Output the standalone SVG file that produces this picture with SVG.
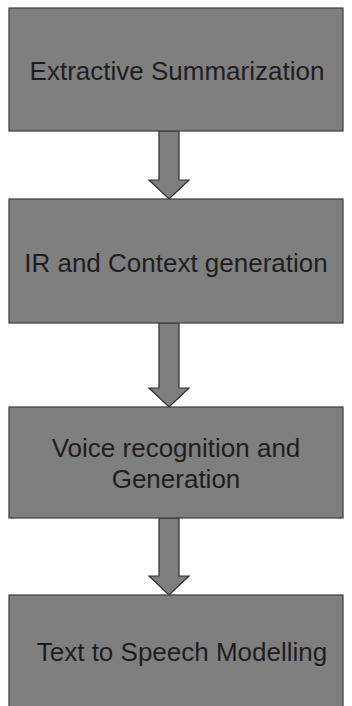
<svg xmlns="http://www.w3.org/2000/svg" width="352" height="706" viewBox="0 0 352 706">
<style>
.box{fill:#7f7f7f;stroke:#3c3c3c;stroke-width:1.2}
.lbl{font-family:"Liberation Sans",Arial,sans-serif;font-size:26px;fill:#1e1e1e;text-anchor:middle}
.arr{fill:#7f7f7f;stroke:#2e2e2e;stroke-width:1.2;stroke-linejoin:miter}
</style>
<rect width="352" height="706" fill="#ffffff"/>
<g id="connectors">
<path class="arr" d="M159,131 L179,131 L179,180 L189,180 L169,199 L149,180 L159,180 Z"/>
<path class="arr" d="M159,323 L179,323 L179,388 L189,388 L169,407 L149,388 L159,388 Z"/>
<path class="arr" d="M159,518 L179,518 L179,576 L189,576 L169,595 L149,576 L159,576 Z"/>
</g>
<g id="node1">
<rect class="box" x="9" y="8" width="334" height="123"/>
<text class="lbl" x="177" y="80">Extractive Summarization</text>
</g>
<g id="node2">
<rect class="box" x="9" y="199" width="334" height="124"/>
<text class="lbl" x="176" y="272">IR and Context generation</text>
</g>
<g id="node3">
<rect class="box" x="9" y="407" width="334" height="111"/>
<text class="lbl" x="176" y="457">Voice recognition and</text>
<text class="lbl" x="176" y="488">Generation</text>
</g>
<g id="node4">
<rect class="box" x="9" y="595" width="334" height="114"/>
<text class="lbl" x="182" y="661">Text to Speech Modelling</text>
</g>
</svg>
